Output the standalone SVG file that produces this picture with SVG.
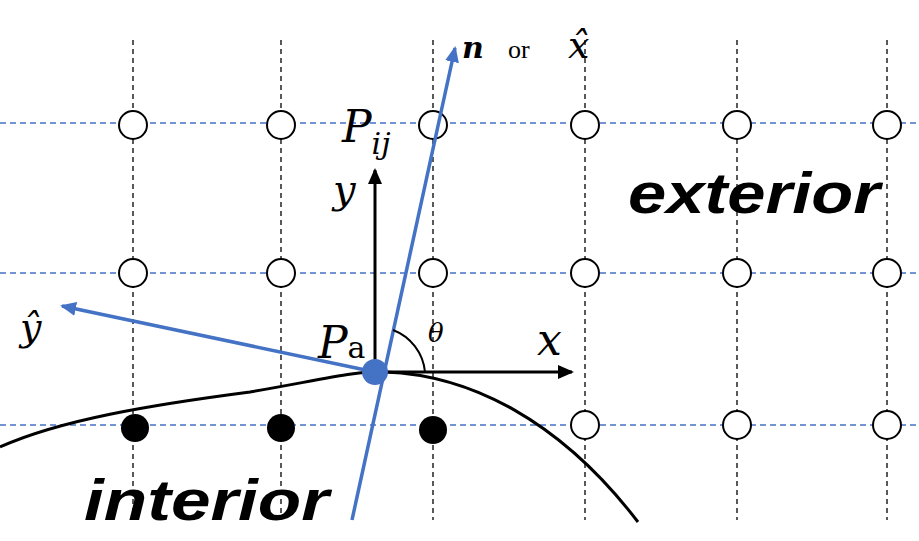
<svg xmlns="http://www.w3.org/2000/svg" width="919" height="541" viewBox="0 0 919 541">
<defs>
<style>
.v{stroke:#000;stroke-width:1.3;stroke-dasharray:5,4}
.h{stroke:#4472c4;stroke-width:1.3;stroke-dasharray:6,4}
.o{fill:#fff;stroke:#000;stroke-width:2}
.f{fill:#000}
.m{font-family:"DejaVu Serif","Liberation Serif",serif;font-style:italic}
.b{font-family:"Liberation Sans",sans-serif;font-weight:bold;font-style:italic;font-size:58px}
</style>
<marker id="ak" markerWidth="16" markerHeight="14" refX="14" refY="7" orient="auto" markerUnits="userSpaceOnUse"><path d="M0,0L16,7L0,14z" fill="#000"/></marker>
<marker id="ab2" markerWidth="16" markerHeight="14" refX="14" refY="7" orient="auto" markerUnits="userSpaceOnUse"><path d="M0,0L16,7L0,14z" fill="#4472c4"/></marker>
</defs>
<rect width="919" height="541" fill="#fff"/>
<g id="grid">
<line class="v" x1="133" y1="40" x2="133" y2="520"/><line class="v" x1="281" y1="40" x2="281" y2="520"/><line class="v" x1="433" y1="40" x2="433" y2="520"/><line class="v" x1="585" y1="40" x2="585" y2="520"/><line class="v" x1="737" y1="40" x2="737" y2="520"/><line class="v" x1="887" y1="40" x2="887" y2="520"/>
<line class="h" x1="0" y1="123" x2="919" y2="123"/><line class="h" x1="0" y1="273" x2="919" y2="273"/><line class="h" x1="0" y1="425" x2="919" y2="425"/>
</g>
<g id="points">
<circle class="o" cx="133" cy="125" r="14"/><circle class="o" cx="281" cy="125" r="14"/><circle class="o" cx="433" cy="125" r="14"/><circle class="o" cx="585" cy="125" r="14"/><circle class="o" cx="737" cy="125" r="14"/><circle class="o" cx="887" cy="125" r="14"/>
<circle class="o" cx="133" cy="273" r="14"/><circle class="o" cx="281" cy="273" r="14"/><circle class="o" cx="433" cy="273" r="14"/><circle class="o" cx="585" cy="273" r="14"/><circle class="o" cx="737" cy="273" r="14"/><circle class="o" cx="887" cy="273" r="14"/>
<circle class="f" cx="135" cy="428" r="14"/><circle class="f" cx="281" cy="428" r="14"/><circle class="f" cx="433" cy="430" r="14"/><circle class="o" cx="585" cy="425" r="14"/><circle class="o" cx="737" cy="425" r="14"/><circle class="o" cx="887" cy="425" r="14"/>
</g>
<g id="connectors">
<path d="M0,447 C60,420 150,405 250,392 C320,380 360,370 385,372 C470,375 560,420 638,522" fill="none" stroke="#000" stroke-width="3"/>
<line x1="352" y1="520" x2="455" y2="48" stroke="#4472c4" stroke-width="3.5" marker-end="url(#ab2)"/>
<line x1="375" y1="372" x2="62" y2="306" stroke="#4472c4" stroke-width="3.5" marker-end="url(#ab2)"/>
<line x1="375" y1="372" x2="375" y2="170" stroke="#000" stroke-width="3" marker-end="url(#ak)"/>
<line x1="375" y1="372" x2="572" y2="372" stroke="#000" stroke-width="3" marker-end="url(#ak)"/>
<path d="M393,330 A50,50 0 0 1 425,372" fill="none" stroke="#000" stroke-width="2"/>
<circle cx="375" cy="372" r="13" fill="#4472c4"/>
</g>
<g id="labels">
<text x="342" y="142" font-size="44" class="m">P<tspan font-size="30" dy="12">ij</tspan></text>
<text x="333" y="203" font-size="40" class="m">y</text>
<text x="462" y="58" font-size="30" class="m" font-weight="bold">n</text>
<text x="508" y="58" font-size="26" font-family="Liberation Serif,serif">or</text>
<text x="568" y="58" font-size="38" class="m">x̂</text>
<text x="628" y="213" class="b" textLength="252" lengthAdjust="spacingAndGlyphs">exterior</text>
<text x="84" y="520" class="b" textLength="245" lengthAdjust="spacingAndGlyphs">interior</text>
<text x="20" y="340" font-size="38" class="m">ŷ</text>
<text x="318" y="358" font-size="44" class="m">P<tspan font-size="30" font-style="normal">a</tspan></text>
<text x="428" y="342" font-size="26" class="m">θ</text>
<text x="537" y="355" font-size="44" class="m">x</text>
</g>
</svg>
